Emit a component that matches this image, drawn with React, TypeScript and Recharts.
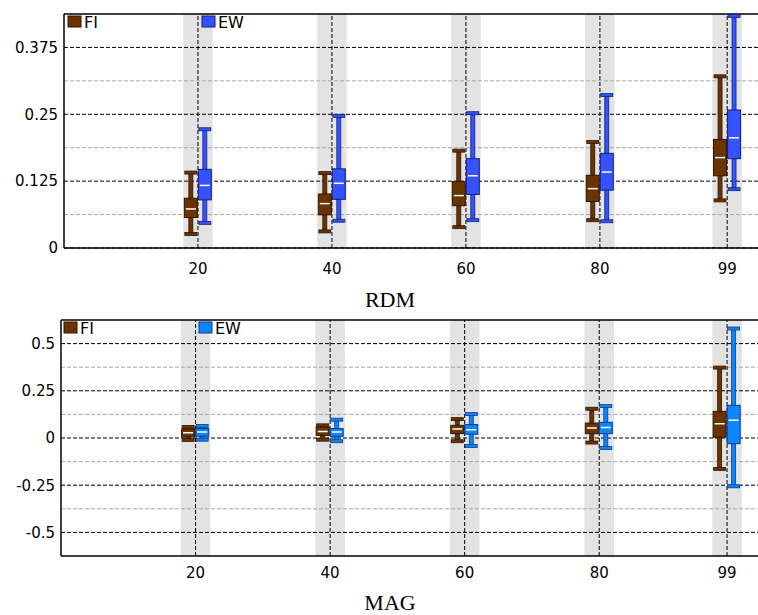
import { Bar, ComposedChart, ReferenceArea, ReferenceLine, XAxis, YAxis } from "recharts";

const positions = [20, 40, 60, 80, 99];

// each entry: [min, q1, median, q3, max]
const rdmFI = [
    [0.026, 0.057, 0.073, 0.093, 0.141],
    [0.031, 0.062, 0.083, 0.101, 0.14],
    [0.039, 0.079, 0.098, 0.124, 0.182],
    [0.052, 0.087, 0.111, 0.136, 0.198],
    [0.089, 0.135, 0.169, 0.203, 0.321],
];
const rdmEW = [
    [0.047, 0.09, 0.117, 0.147, 0.222],
    [0.051, 0.091, 0.121, 0.148, 0.247],
    [0.052, 0.1, 0.135, 0.167, 0.252],
    [0.05, 0.108, 0.142, 0.177, 0.286],
    [0.11, 0.167, 0.206, 0.258, 0.434],
];
const magFI = [
    [-0.01, 0.006, 0.028, 0.048, 0.058],
    [-0.009, 0.014, 0.035, 0.058, 0.067],
    [-0.017, 0.023, 0.048, 0.067, 0.1],
    [-0.024, 0.023, 0.053, 0.079, 0.155],
    [-0.164, 0.004, 0.076, 0.141, 0.373],
];
const magEW = [
    [-0.009, 0.009, 0.032, 0.05, 0.064],
    [-0.017, 0.009, 0.032, 0.05, 0.097],
    [-0.042, 0.02, 0.044, 0.071, 0.127],
    [-0.053, 0.023, 0.055, 0.083, 0.169],
    [-0.256, -0.03, 0.094, 0.173, 0.58],
];

const rdmTicks = [0, 0.125, 0.25, 0.375];
const rdmMinor = [0.0625, 0.1875, 0.3125];
const magTicks = [-0.5, -0.25, 0, 0.25, 0.5];
const magMinor = [-0.375, -0.125, 0.125, 0.375];

const FONT = "'DejaVu Sans', Arial, sans-serif";
const SERIF = "'Liberation Serif', 'Times New Roman', serif";
const FI_COLOR = "#6b3300";
const FI_DARK = "#2e1500";

type Stats = number[];

function makeBoxShape(key: "fi" | "ew", color: string, dark: string) {
    return (props: any) => {
        const { x, y, width, height, payload } = props;
        const [mn, q1, md, q3, mx]: Stats = payload[key];
        const top = Math.min(y, y + height);
        const bot = Math.max(y, y + height);
        // linear scale, so values inside the range map proportionally
        const py = (v: number) => bot - ((v - mn) / (mx - mn)) * (bot - top);
        const cx = x + width / 2;
        return (
            <g>
                <rect x={cx - 2} y={top} width={4} height={bot - top} fill={color} stroke={dark} strokeWidth={0.8} />
                <rect x={x + 0.5} y={top - 1.5} width={width - 1} height={3} fill={color} stroke={dark} strokeWidth={0.8} />
                <rect x={x + 0.5} y={bot - 1.5} width={width - 1} height={3} fill={color} stroke={dark} strokeWidth={0.8} />
                <rect x={x} y={py(q3)} width={width} height={Math.max(py(q1) - py(q3), 1)} fill={color} stroke={dark} strokeWidth={1} />
                <line x1={x + 1.5} x2={x + width - 1.5} y1={py(md)} y2={py(md)} stroke="#fff" strokeWidth={1.5} />
            </g>
        );
    };
}

type PanelProps = {
    fi: Stats[];
    ew: Stats[];
    ewColor: string;
    ewDark: string;
    yDomain: [number, number];
    yTicks: number[];
    minor: number[];
    height: number;
    top: number;
    bottom: number;
    axisWidth: number;
    xTickGap: number;
};

function Panel({ fi, ew, ewColor, ewDark, yDomain, yTicks, minor, height, top, bottom, axisWidth, xTickGap }: PanelProps) {
    const data = positions.map((p, i) => ({ x: p, fi: fi[i], ew: ew[i] }));
    return (
        <ComposedChart width={758} height={height} data={data} margin={{ top, right: 0, left: 0, bottom }} barGap={1}>
            <XAxis
                dataKey="x"
                type="number"
                domain={[0, 103.6]}
                ticks={positions}
                axisLine={false}
                tickLine={false}
                tickSize={xTickGap}
                tickMargin={2}
                height={30}
                tick={{ fill: "#000", fontSize: 15, fontFamily: FONT }}
            />
            <YAxis
                type="number"
                domain={yDomain}
                ticks={yTicks}
                allowDataOverflow
                axisLine={false}
                tickLine={false}
                tickSize={4}
                tickMargin={2}
                width={axisWidth}
                tick={{ fill: "#000", fontSize: 15, fontFamily: FONT }}
            />
            {positions.map((p) => (
                <ReferenceArea key={"band" + p} x1={p - 2.2} x2={p + 2.2} fill="#e3e3e3" fillOpacity={1} stroke="none" zIndex={-300} />
            ))}
            {minor.map((v) => (
                <ReferenceLine key={"mn" + v} y={v} stroke="#a8a8a8" strokeDasharray="4 2" zIndex={-200} />
            ))}
            {yTicks.map((v) => (
                <ReferenceLine key={"mj" + v} y={v} stroke="#000" strokeDasharray="4 2" zIndex={-200} />
            ))}
            {positions.map((p) => (
                <ReferenceLine key={"vx" + p} x={p} stroke="#000" strokeDasharray="4 2" zIndex={-200} />
            ))}
            <ReferenceLine x={0} stroke="#000" strokeWidth={1.5} zIndex={-100} />
            <ReferenceLine y={yDomain[0]} stroke="#000" strokeWidth={1.5} zIndex={-100} />
            <ReferenceLine y={yDomain[1]} stroke="#000" strokeWidth={1.5} zIndex={-100} />
            <Bar
                dataKey={(d: any) => [d.fi[0], d.fi[4]]}
                barSize={13}
                shape={makeBoxShape("fi", FI_COLOR, FI_DARK)}
                isAnimationActive={false}
            />
            <Bar
                dataKey={(d: any) => [d.ew[0], d.ew[4]]}
                barSize={13}
                shape={makeBoxShape("ew", ewColor, ewDark)}
                isAnimationActive={false}
            />
        </ComposedChart>
    );
}

function LegendItem({ x, y, color, dark, label }: { x: number; y: number; color: string; dark: string; label: string }) {
    return (
        <g>
            <rect x={x} y={y} width={13} height={11} fill={color} stroke={dark} strokeWidth={1} />
            <text x={x + 16} y={y + 11.5} fontSize={16} fontFamily={FONT} fill="#000">
                {label}
            </text>
        </g>
    );
}

export default function App() {
    return (
        <div style={{ position: "absolute", left: 0, top: 0, width: 758, height: 615, background: "#fff", overflow: "hidden" }}>
            <div style={{ position: "absolute", left: 0, top: 0 }}>
                <Panel
                    fi={rdmFI}
                    ew={rdmEW}
                    ewColor="#3552ff"
                    ewDark="#14207a"
                    yDomain={[0, 0.4375]}
                    yTicks={rdmTicks}
                    minor={rdmMinor}
                    height={310}
                    top={14}
                    bottom={32}
                    axisWidth={64}
                    xTickGap={13}
                />
            </div>
            <div style={{ position: "absolute", left: 0, top: 306 }}>
                <Panel
                    fi={magFI}
                    ew={magEW}
                    ewColor="#0a86ff"
                    ewDark="#0b3a8a"
                    yDomain={[-0.625, 0.625]}
                    yTicks={magTicks}
                    minor={magMinor}
                    height={309}
                    top={14}
                    bottom={29}
                    axisWidth={61}
                    xTickGap={9}
                />
            </div>
            <svg width={758} height={615} style={{ position: "absolute", left: 0, top: 0, pointerEvents: "none" }}>
                <LegendItem x={68} y={16} color={FI_COLOR} dark={FI_DARK} label="FI" />
                <LegendItem x={202} y={16} color="#3552ff" dark="#14207a" label="EW" />
                <LegendItem x={64} y={322} color={FI_COLOR} dark={FI_DARK} label="FI" />
                <LegendItem x={199} y={322} color="#0a86ff" dark="#0b3a8a" label="EW" />
                <text x={390} y={307} textAnchor="middle" fontSize={22} fontFamily={SERIF} fill="#000">
                    RDM
                </text>
                <text x={390} y={610} textAnchor="middle" fontSize={22} fontFamily={SERIF} fill="#000">
                    MAG
                </text>
            </svg>
        </div>
    );
}
